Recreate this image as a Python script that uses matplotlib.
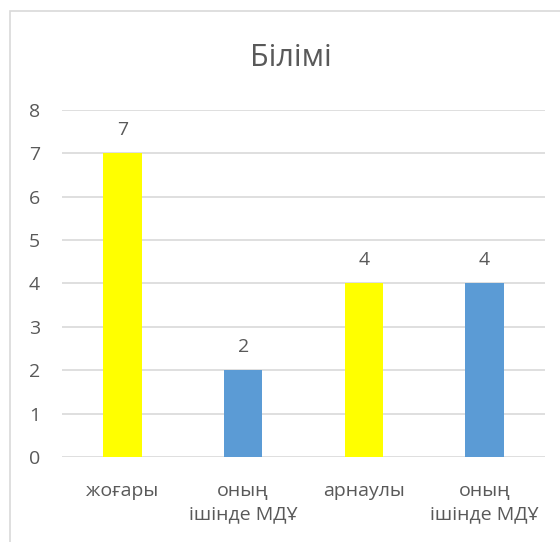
import matplotlib.pyplot as plt
from matplotlib.patches import Rectangle

categories = ["жоғары", "оның\nішінде МДҰ", "арнаулы", "оның\nішінде МДҰ"]
values = [7, 2, 4, 4]
bar_colors = ["#FFFF00", "#5B9BD5", "#FFFF00", "#5B9BD5"]
y_ticks = [0, 1, 2, 3, 4, 5, 6, 7, 8]

text_color = "#595959"
grid_color = "#D9D9D9"
plt.rcParams["font.family"] = ["Open Sans", "DejaVu Sans"]

fig = plt.figure(figsize=(5.6, 5.42), dpi=100)
ax = fig.add_axes([0.111, 0.157, 0.862, 0.640])

# chart border (runs off the right and bottom edges)
fig.patches.append(Rectangle((10 / 560, -0.05), 1.0, 1 - 11 / 542 + 0.05,
                             transform=fig.transFigure, fill=False,
                             edgecolor=grid_color, linewidth=1.2))

x = range(len(categories))
bars = ax.bar(x, values, width=0.32, color=bar_colors, zorder=3)
for b, v in zip(bars, values):
    ax.text(b.get_x() + b.get_width() / 2, v + 0.42, str(v), ha="center",
            va="baseline", fontsize=14, color=text_color)

ax.set_xlim(-0.5, len(categories) - 0.5)
ax.set_ylim(0, 8)
ax.set_yticks(y_ticks)
ax.set_xticks(list(x))
ax.set_xticklabels(categories, fontsize=14, color=text_color, linespacing=1.4)
ax.tick_params(axis="y", labelsize=14, labelcolor=text_color, length=0, pad=16)
ax.tick_params(axis="x", length=0, pad=18)
ax.grid(axis="y", color=grid_color, linewidth=1.2, zorder=0)
for s in ax.spines.values():
    s.set_visible(False)

fig.text(0.52, 1 - 58 / 542, "Білімі", ha="center", va="center",
         fontsize=22, color=text_color)

fig.savefig("out.png", dpi=100)
